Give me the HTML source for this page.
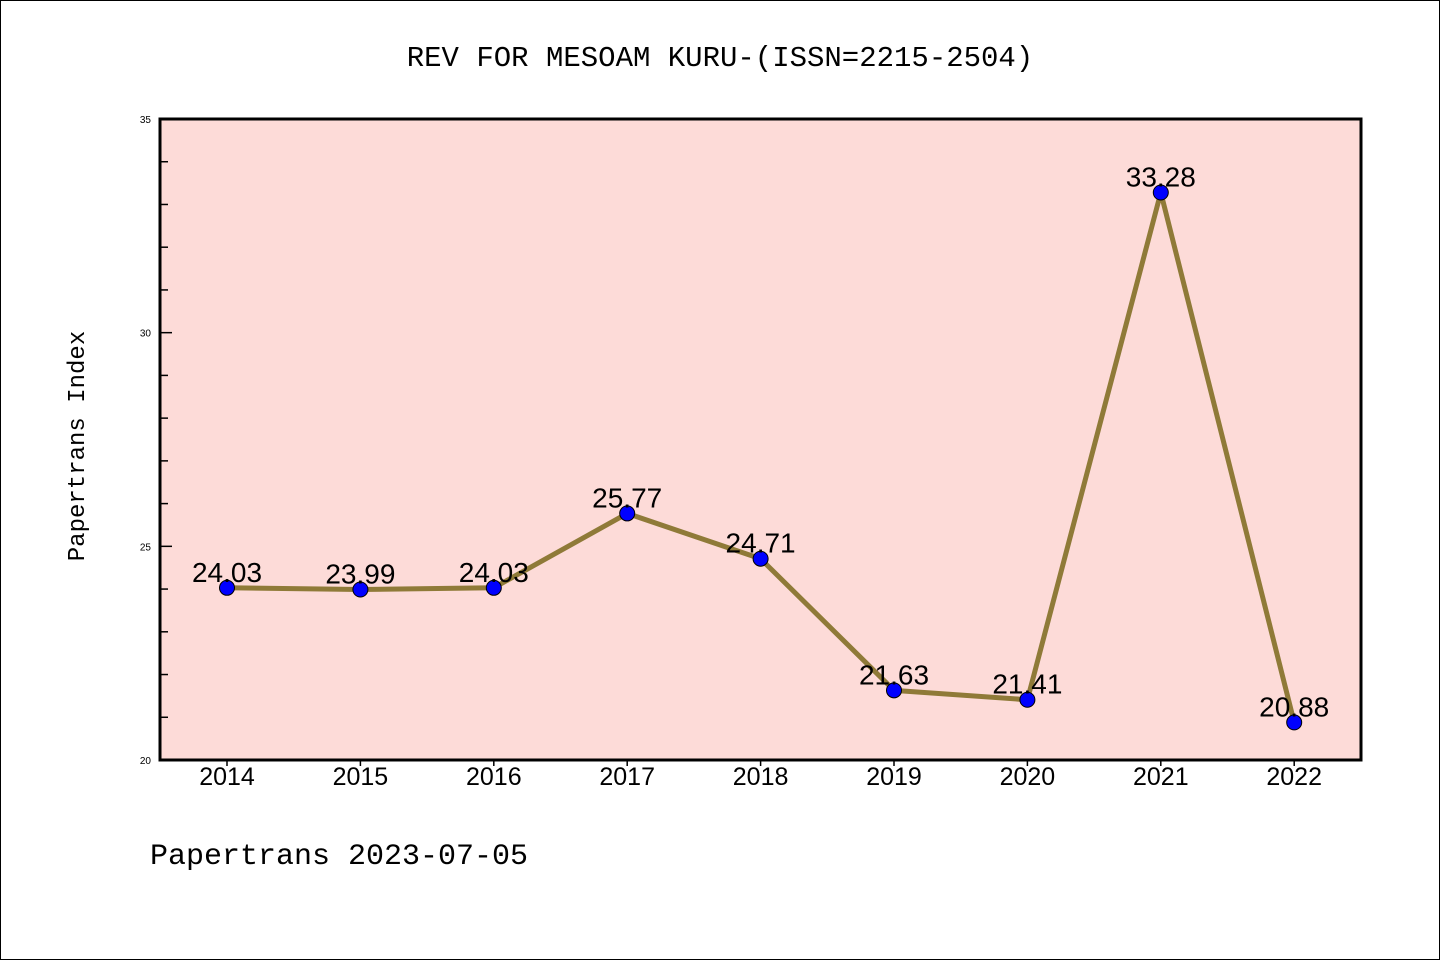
<!DOCTYPE html>
<html><head><meta charset="utf-8"><style>
body{margin:0;background:#fff}
svg text{font-family:"Liberation Sans","DejaVu Sans",sans-serif}
svg text.mono{font-family:"Liberation Mono","DejaVu Sans Mono",monospace}
</style></head><body>
<svg id="chart" width="1440" height="960" xmlns="http://www.w3.org/2000/svg">
<rect x="0.5" y="0.5" width="1439" height="959" fill="#fff" stroke="#000"/>
<text class="mono" x="720" y="66" text-anchor="middle" font-size="29">REV FOR MESOAM KURU-(ISSN=2215-2504)</text>
<rect x="160" y="119" width="1201" height="641" fill="#fddbd8"/>
<g id="axes"></g>
<g id="series"></g>
<rect x="160" y="119" width="1201" height="641" fill="none" stroke="#000" stroke-width="3"/>
<text class="mono" transform="translate(84,446) rotate(-90)" text-anchor="middle" font-size="24">Papertrans Index</text>
<text class="mono" x="150" y="864" font-size="30">Papertrans 2023-07-05</text>
</svg>
<script>
const years=["2014","2015","2016","2017","2018","2019","2020","2021","2022"];
const values=[24.03,23.99,24.03,25.77,24.71,21.63,21.41,33.28,20.88];
const labels=["24.03","23.99","24.03","25.77","24.71","21.63","21.41","33.28","20.88"];
const yTicks=[20,25,30,35];
const NS="http://www.w3.org/2000/svg";
const x=i=>227+i*133.4;
const y=v=>760-(v-20)*(641/15);
function mk(t,a,p){const e=document.createElementNS(NS,t);for(const k in a)e.setAttribute(k,a[k]);p.appendChild(e);return e;}
const ax=document.getElementById('axes'),se=document.getElementById('series');
for(let v=20;v<=35;v++){
  const major=yTicks.includes(v);
  const t=mk('line',{x1:160,x2:160+(major?12:8),y1:y(v),y2:y(v),stroke:'#000','stroke-width':1.5},ax);
  
  
}
yTicks.forEach(v=>{
  const t=mk('text',{x:151,y:y(v)+4,'text-anchor':'end','font-size':10},ax);
  t.textContent=v;
  
  
});
years.forEach((yr,i)=>{
  const l=mk('line',{x1:x(i),x2:x(i),y1:760,y2:766,stroke:'#000','stroke-width':1.5},ax);
  
  
  const t=mk('text',{x:x(i),y:785,'text-anchor':'middle','font-size':25},ax);
  t.textContent=yr;
  
  
});
const pl=mk('polyline',{points:values.map((v,i)=>x(i)+','+y(v)).join(' '),fill:'none',stroke:'#8f7a38','stroke-width':5,'stroke-linejoin':'round'},se);


values.forEach((v,i)=>{
  const c=mk('circle',{cx:x(i),cy:y(v),r:7.5,fill:'#0000ff',stroke:'#000','stroke-width':1},se);
  
  
  const t=mk('text',{x:x(i),y:y(v)-6,'text-anchor':'middle','font-size':28},se);
  t.textContent=labels[i];
  
  
});
</script>
</body></html>
